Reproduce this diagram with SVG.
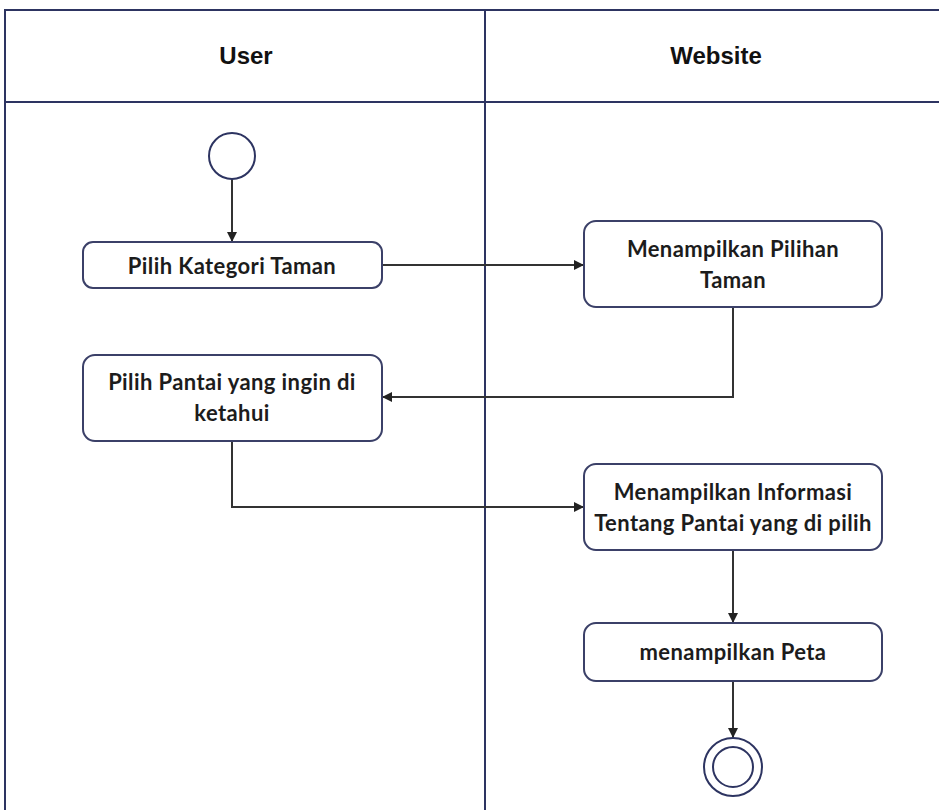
<svg xmlns="http://www.w3.org/2000/svg" width="939" height="810" viewBox="0 0 939 810">
<defs>
<marker id="arr" viewBox="0 0 10 10" refX="10" refY="5" markerWidth="10" markerHeight="10" markerUnits="userSpaceOnUse" orient="auto">
<path d="M0,0 L10,5 L0,10 z" fill="#222"/>
</marker>
</defs>
<style>
.lane{fill:none;stroke:#2d3461;stroke-width:2}
.hdr{font-family:"Liberation Sans",Arial,sans-serif;font-weight:bold;font-size:24px;fill:#111;text-anchor:middle}
.box{fill:#fff;stroke:#3b4068;stroke-width:2}
.lbl{font-family:Lato,"Open Sans",sans-serif;font-weight:bold;font-size:22px;letter-spacing:0.4px;fill:#1c1c1c;text-anchor:middle}
.con{fill:none;stroke:#333;stroke-width:2;marker-end:url(#arr)}
.st{fill:#fff;stroke:#2d3461;stroke-width:2}
</style>
<rect width="939" height="810" fill="#fff"/>
<g id="lanes">
<path class="lane" d="M945,10 H5 V815"/>
<path class="lane" d="M5,102 H945"/>
<path class="lane" d="M485,10 V815"/>
<text class="hdr" x="246" y="64">User</text>
<text class="hdr" x="716" y="64">Website</text>
</g>
<g id="connectors">
<path class="con" d="M232,179 V242"/>
<path class="con" d="M382,265 H584"/>
<path class="con" d="M733,307 V397 H382"/>
<path class="con" d="M232,441 V507 H584"/>
<path class="con" d="M733,550 V623"/>
<path class="con" d="M733,681 V738"/>
</g>
<g id="start"><circle class="st" cx="232" cy="156" r="23"/></g>
<g id="n1"><rect class="box" x="83" y="242" width="299" height="46" rx="10"/><text class="lbl" x="232" y="274">Pilih Kategori Taman</text></g>
<g id="n2"><rect class="box" x="584" y="221" width="298" height="86" rx="12"/><text class="lbl" x="733" y="257">Menampilkan Pilihan</text><text class="lbl" x="733" y="288">Taman</text></g>
<g id="n3"><rect class="box" x="83" y="355" width="299" height="86" rx="12"/><text class="lbl" x="232" y="390">Pilih Pantai yang ingin di</text><text class="lbl" x="232" y="421">ketahui</text></g>
<g id="n4"><rect class="box" x="584" y="464" width="298" height="86" rx="12"/><text class="lbl" x="733" y="500">Menampilkan Informasi</text><text class="lbl" x="733" y="531">Tentang Pantai yang di pilih</text></g>
<g id="n5"><rect class="box" x="584" y="623" width="298" height="58" rx="12"/><text class="lbl" x="733" y="660">menampilkan Peta</text></g>
<g id="end"><circle class="st" cx="733" cy="767" r="29"/><circle class="st" cx="733" cy="767" r="20"/></g>
</svg>
